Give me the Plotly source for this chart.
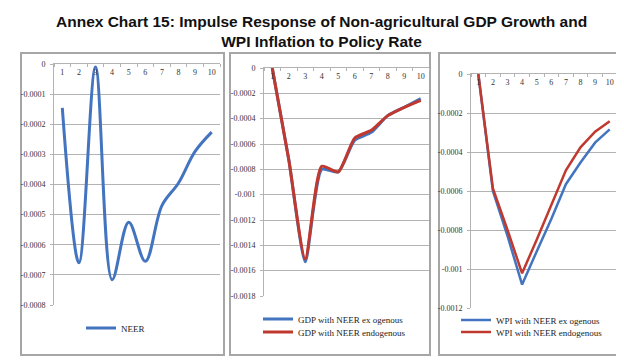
import plotly.graph_objects as go

# ---- data ----
periods = [1, 2, 3, 4, 5, 6, 7, 8, 9, 10]

neer = [-0.000146, -0.00066, -0.00001, -0.000716, -0.000525, -0.000655,
        -0.00047, -0.000395, -0.00029, -0.000226]

gdp_exo = [0.0, -0.00072, -0.00153, -0.0008, -0.00082, -0.00057,
           -0.000508, -0.000376, -0.00031, -0.000242]
gdp_endo = [0.0, -0.000724, -0.001508, -0.000776, -0.00082, -0.000553,
            -0.000492, -0.000376, -0.00031, -0.000255]

wpi_exo = [0.0, -0.0006, -0.00083, -0.00108, -0.00091, -0.000744,
           -0.000565, -0.000454, -0.000352, -0.000284]
wpi_endo = [0.0, -0.000587, -0.0008, -0.001022, -0.00085, -0.00067,
            -0.000494, -0.000376, -0.000296, -0.000242]

y1_vals = [0, -0.0001, -0.0002, -0.0003, -0.0004, -0.0005, -0.0006, -0.0007, -0.0008]
y1_text = ["0", "-0.0001", "-0.0002", "-0.0003", "-0.0004", "-0.0005", "-0.0006", "-0.0007", "-0.0008"]
y2_vals = [0, -0.0002, -0.0004, -0.0006, -0.0008, -0.001, -0.0012, -0.0014, -0.0016, -0.0018]
y2_text = ["0", "-0.0002", "-0.0004", "-0.0006", "-0.0008", "-0.001", "-0.0012", "-0.0014", "-0.0016", "-0.0018"]
y3_vals = [0, -0.0002, -0.0004, -0.0006, -0.0008, -0.001, -0.0012]
y3_text = ["0", "-0.0002", "-0.0004", "-0.0006", "-0.0008", "-0.001", "-0.0012"]

title_text = "Annex Chart 15: Impulse Response of Non-agricultural GDP Growth and<br>WPI Inflation to Policy Rate"

BLUE = "#4374BF"
RED = "#C0392F"
GRID = "#b3b3b3"
W, H = 624, 364

def px(x):
    return x / W

def py(y):
    return 1 - y / H

fig = go.Figure()

fig.add_trace(go.Scatter(x=periods, y=neer, mode="lines", name="NEER",
                         line=dict(color=BLUE, width=3, shape="spline", smoothing=1),
                         xaxis="x", yaxis="y", legend="legend"))
fig.add_trace(go.Scatter(x=periods, y=gdp_exo, mode="lines", name="GDP with NEER ex ogenous",
                         line=dict(color=BLUE, width=3, shape="spline", smoothing=0.6),
                         xaxis="x2", yaxis="y2", legend="legend2"))
fig.add_trace(go.Scatter(x=periods, y=gdp_endo, mode="lines", name="GDP with NEER endogenous",
                         line=dict(color=RED, width=3, shape="spline", smoothing=0.6),
                         xaxis="x2", yaxis="y2", legend="legend3"))
fig.add_trace(go.Scatter(x=periods, y=wpi_exo, mode="lines", name="WPI with NEER ex ogenous",
                         line=dict(color=BLUE, width=2.5),
                         xaxis="x3", yaxis="y3", legend="legend4"))
fig.add_trace(go.Scatter(x=periods, y=wpi_endo, mode="lines", name="WPI with NEER endogenous",
                         line=dict(color=RED, width=2.5),
                         xaxis="x3", yaxis="y3", legend="legend5"))

tick_font = dict(family="Liberation Serif", size=8, color="#333333")

def xaxis(dom, anchor):
    return dict(domain=dom, anchor=anchor, range=[0.5, 10.5], side="top",
                tickvals=periods, ticktext=[str(p) for p in periods],
                ticklabelposition="outside", ticklabelstandoff=-15,
                ticks="", showgrid=False, automargin=False,
                showline=True, linecolor=GRID, linewidth=1, zeroline=False,
                tickfont=tick_font, fixedrange=True,
                minor=dict(tick0=0.5, dtick=1, ticks="inside", ticklen=3,
                           tickcolor=GRID, showgrid=False))

def yaxis(dom, anchor, rng, vals, text):
    return dict(domain=dom, anchor=anchor, range=rng, tickvals=vals, ticktext=text,
                showgrid=True, gridcolor=GRID, gridwidth=1, zeroline=False,
                showline=True, linecolor=GRID, linewidth=1, automargin=False,
                ticks="outside", ticklen=3, tickcolor=GRID,
                ticklabelstandoff=3, tickfont=tick_font, fixedrange=True)

leg_font = dict(family="Liberation Serif", size=9, color="#222222")

def legend(x, y):
    return dict(x=px(x), y=py(y), xanchor="left", yanchor="middle",
                bgcolor="rgba(0,0,0,0)", font=leg_font, borderwidth=0)

fig.update_layout(
    width=W, height=H,
    margin=dict(l=0, r=0, t=0, b=0, autoexpand=False),
    paper_bgcolor="white", plot_bgcolor="white",
    xaxis=xaxis([px(46), px(212)], "y"),
    yaxis=yaxis([py(297), py(56)], "x", [-0.0008, 0], y1_vals, y1_text),
    xaxis2=xaxis([px(256), px(421)], "y2"),
    yaxis2=yaxis([py(288), py(60)], "x2", [-0.0018, 0], y2_vals, y2_text),
    xaxis3=xaxis([px(463), px(609)], "y3"),
    yaxis3=yaxis([py(300), py(66)], "x3", [-0.0012, 0], y3_vals, y3_text),
    legend=legend(73, 320),
    legend2=legend(250, 311),
    legend3=legend(250, 324),
    legend4=legend(448, 312),
    legend5=legend(448, 324),
    showlegend=True,
)

fig.add_annotation(text="<b>" + title_text.replace("<br>", "</b><br><b>") + "</b>",
                   xref="paper", yref="paper", x=0.503, y=py(23),
                   xanchor="center", yanchor="middle", showarrow=False,
                   font=dict(family="Liberation Sans", size=15.5, color="#111111"))

# panel borders
for (x0, x1) in [(13, 216), (222, 422), (431, 612)]:
    fig.add_shape(type="rect", xref="paper", yref="paper",
                  x0=px(x0), x1=px(x1), y0=py(347), y1=py(45),
                  line=dict(color="#a6a6a6", width=2), fillcolor="rgba(0,0,0,0)",
                  layer="below")

fig.write_html("out.html")
